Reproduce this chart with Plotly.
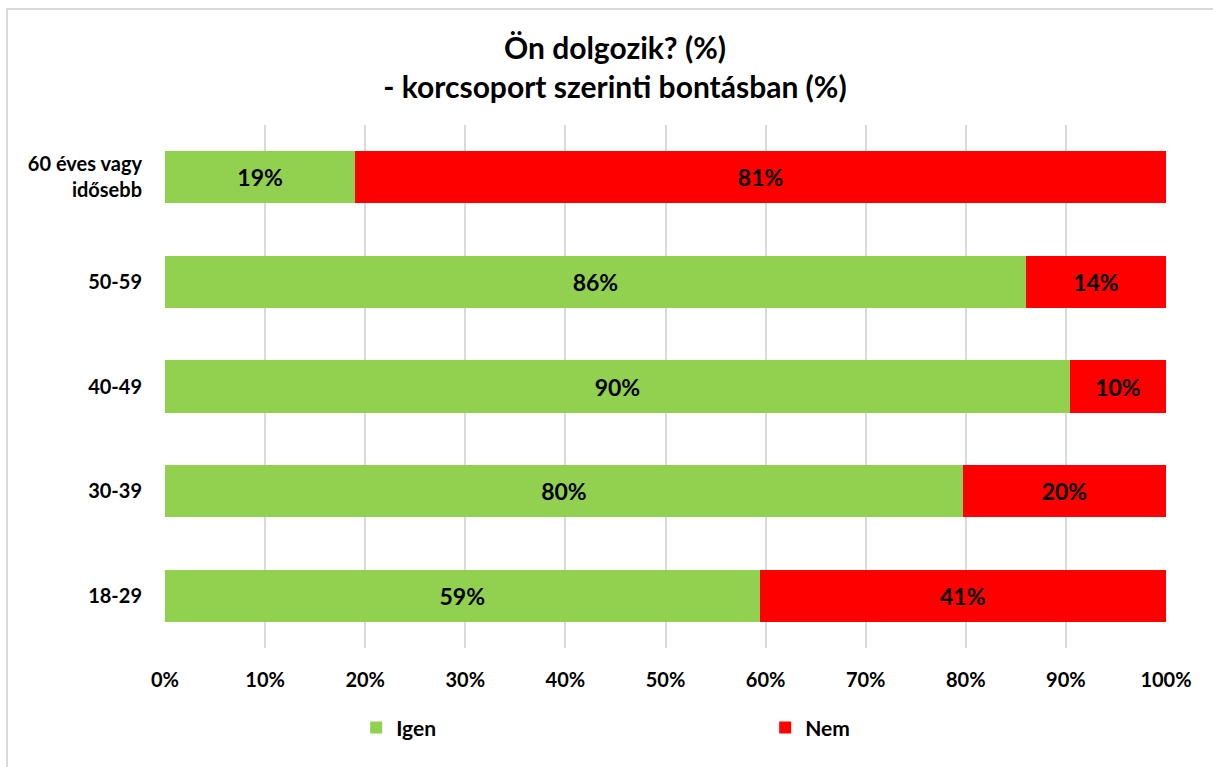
import plotly.graph_objects as go

# Age groups, bottom to top
categories = ["18-29", "30-39", "40-49", "50-59", "60 éves vagy<br>idősebb"]
igen = [59.4, 79.7, 90.4, 86.0, 19.0]
nem = [40.6, 20.3, 9.6, 14.0, 81.0]
x_ticks = [0, 10, 20, 30, 40, 50, 60, 70, 80, 90, 100]
x_tick_labels = [f"{v}%" for v in x_ticks]

FONT = "Lato"
GREEN = "#92D050"
RED = "#FF0000"

fig = go.Figure()
fig.add_trace(go.Bar(
    y=categories, x=igen, name="Igen", orientation="h",
    marker=dict(color=GREEN, line=dict(width=0)),
    texttemplate="%{x:.0f}%", textposition="inside", insidetextanchor="middle",
    textfont=dict(family=FONT, size=23, color="black", weight="bold"),
))
fig.add_trace(go.Bar(
    y=categories, x=nem, name="Nem", orientation="h",
    marker=dict(color=RED, line=dict(width=0)),
    texttemplate="%{x:.0f}%", textposition="inside", insidetextanchor="middle",
    textfont=dict(family=FONT, size=23, color="black", weight="bold"),
))

fig.update_layout(
    barmode="stack",
    bargap=0.5,
    width=1213, height=767,
    margin=dict(l=165, r=47, t=125, b=119, autoexpand=False),
    paper_bgcolor="white", plot_bgcolor="white",
    font=dict(family=FONT, color="black"),
    title=dict(
        text="<b>Ön dolgozik? (%)</b><br><b>- korcsoport szerinti bontásban (%)</b>",
        x=0.507, xanchor="center", y=0.923, yanchor="middle",
        font=dict(family=FONT, size=30, color="black"),
    ),
    uniformtext=dict(minsize=10, mode="show"),
    legend=dict(
        orientation="h", x=0.191, xanchor="left", y=-0.1135, yanchor="top",
        entrywidth=364, entrywidthmode="pixels",
        bgcolor="rgba(0,0,0,0)",
        font=dict(family=FONT, size=21, color="black", weight="bold"),
        traceorder="normal",
    ),
    shapes=[dict(
        type="rect", xref="paper", yref="paper",
        x0=(7 - 165) / 1001, x1=(1216 - 165) / 1001,
        y0=(648 - 772) / 523, y1=(648 - 9) / 523,
        line=dict(color="#D9D9D9", width=2), fillcolor="rgba(0,0,0,0)",
        layer="below",
    )],
)

fig.update_xaxes(
    range=[0, 100], tickvals=x_ticks, ticktext=x_tick_labels,
    showgrid=True, gridcolor="#D9D9D9", gridwidth=2,
    zeroline=False, showline=False, ticks="",
    ticklabelstandoff=18,
    tickfont=dict(family=FONT, size=20, color="black", weight="bold"),
)
fig.update_yaxes(
    categoryorder="array", categoryarray=categories,
    range=[-0.5, 4.5],
    showgrid=False, zeroline=False, showline=False, ticks="",
    ticklabelstandoff=22,
    tickfont=dict(family=FONT, size=20, color="black", weight="bold"),
)

fig.write_html("out.html")
